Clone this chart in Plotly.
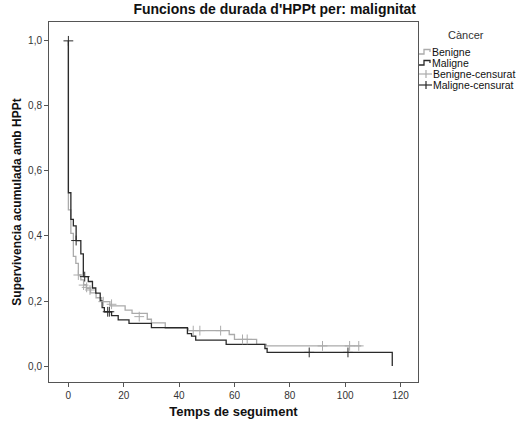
import plotly.graph_objects as go

# Kaplan-Meier step data (time, survival)
ben_t = [0, 0, 0.9, 1.8, 2.7, 3.6, 4.5, 5.5, 6.5, 8.0, 10.0, 12.0, 15.0, 20.5, 23.0, 28.5, 30.0,
         35.0, 43.3, 58.1, 60.0, 68.0, 71.5, 105.8]
ben_s = [1.0, 0.48, 0.408, 0.337, 0.316, 0.28, 0.265, 0.25, 0.239, 0.225, 0.21, 0.198, 0.185,
         0.172, 0.162, 0.144, 0.133, 0.116, 0.109, 0.097, 0.082, 0.067, 0.062, 0.062]

mal_t = [0, 0, 0.9, 1.8, 2.8, 4.5, 5.4, 7.2, 8.7, 9.9, 11.5, 12.2, 13.0, 15.6, 18.0, 21.9, 30.0,
         43.0, 44.5, 46.0, 57.0, 71.0, 71.8, 117.0, 117.0]
mal_s = [1.0, 0.533, 0.451, 0.431, 0.386, 0.345, 0.275, 0.26, 0.24, 0.224, 0.2, 0.18, 0.167,
         0.155, 0.142, 0.131, 0.118, 0.1, 0.092, 0.08, 0.067, 0.054, 0.042, 0.042, 0.0]

# Censored observations
ben_cens_t = [3.6, 5.5, 6.6, 7.8, 12.6, 15.6, 25.6, 45.1, 47.5, 55.0, 62.9, 64.6, 91.8, 101.6, 104.9]
ben_cens_s = [0.28, 0.249, 0.242, 0.234, 0.198, 0.19, 0.152, 0.109, 0.109, 0.109, 0.082, 0.082,
              0.062, 0.062, 0.062]
mal_cens_t = [0, 2.8, 5.9, 14.2, 14.8, 87.0, 101.0]
mal_cens_s = [1.0, 0.386, 0.275, 0.167, 0.167, 0.042, 0.042]

x_ticks = [0, 20, 40, 60, 80, 100, 120]
y_ticks = [0.0, 0.2, 0.4, 0.6, 0.8, 1.0]
y_tick_labels = ["0,0", "0,2", "0,4", "0,6", "0,8", "1,0"]

legend_title = "Càncer"
legend_names = ["Benigne", "Maligne", "Benigne-censurat", "Maligne-censurat"]

GRAY = "#ababab"
BLACK = "#2a2a2a"
FONT = "Liberation Sans, Arial"

W, H = 519, 425
ML, MR, MT, MB = 49, 101, 22, 43
PW, PH = W - ML - MR, H - MT - MB


def px(x):
    return (x - ML) / PW


def py(y):
    return (H - MB - y) / PH


fig = go.Figure()
fig.add_trace(go.Scatter(x=ben_t, y=ben_s, mode="lines", line=dict(color=GRAY, width=1.3, shape="hv"),
                         name=legend_names[0], showlegend=False))
fig.add_trace(go.Scatter(x=mal_t, y=mal_s, mode="lines", line=dict(color=BLACK, width=1.3, shape="hv"),
                         name=legend_names[1], showlegend=False))
fig.add_trace(go.Scatter(x=ben_cens_t, y=ben_cens_s, mode="markers", name=legend_names[2],
                         marker=dict(symbol="cross-thin", size=7, line=dict(color=GRAY, width=1)),
                         showlegend=False))
fig.add_trace(go.Scatter(x=mal_cens_t, y=mal_cens_s, mode="markers", name=legend_names[3],
                         marker=dict(symbol="cross-thin", size=7, line=dict(color=BLACK, width=1)),
                         showlegend=False))

# Manual legend (SPSS style)
shapes = []
annotations = []
annotations.append(dict(text=legend_title, xref="paper", yref="paper", x=px(466), y=py(35),
                        xanchor="center", yanchor="middle", showarrow=False,
                        font=dict(family=FONT, size=11, color="#333333")))
rows = [52, 63, 74, 85]
colors = [GRAY, BLACK, GRAY, BLACK]
for i, (name, yy, c) in enumerate(zip(legend_names, rows, colors)):
    if i < 2:
        path = (f"M {px(419)},{py(yy + 2)} L {px(424)},{py(yy + 2)} L {px(424)},{py(yy - 2.5)} "
                f"L {px(430)},{py(yy - 2.5)} L {px(430)},{py(yy)}")
        shapes.append(dict(type="path", xref="paper", yref="paper", path=path,
                           line=dict(color=c, width=1.3)))
        tx = 430
    else:
        shapes.append(dict(type="line", xref="paper", yref="paper", x0=px(419), x1=px(432),
                           y0=py(yy), y1=py(yy), line=dict(color=c, width=1.2)))
        shapes.append(dict(type="line", xref="paper", yref="paper", x0=px(426), x1=px(426),
                           y0=py(yy - 4), y1=py(yy + 4), line=dict(color=c, width=1.2)))
        tx = 431
    annotations.append(dict(text=name, xref="paper", yref="paper", x=px(tx), y=py(yy),
                            xanchor="left", yanchor="middle", showarrow=False,
                            font=dict(family=FONT, size=10.5, color="#111111")))

axis_common = dict(showgrid=False, zeroline=False, showline=True, linecolor="#555555", linewidth=1,
                   mirror=True, ticks="outside", ticklen=4, tickcolor="#555555", automargin=False,
                   tickfont=dict(family=FONT, size=10, color="#333333"))

fig.update_layout(
    width=W, height=H,
    margin=dict(l=ML, r=MR, t=MT, b=MB, autoexpand=False),
    paper_bgcolor="white", plot_bgcolor="white",
    showlegend=False,
    title=dict(text="<b>Funcions de durada d'HPPt per: malignitat</b>",
               font=dict(family=FONT, size=14, color="#111111"),
               x=416 / W, xref="container", xanchor="right", y=0.99, yref="container", yanchor="top"),
    xaxis=dict(range=[-7, 126.3], tickvals=x_ticks,
               title=dict(text="<b>Temps de seguiment</b>", standoff=6,
                          font=dict(family=FONT, size=13, color="#111111")),
               **axis_common),
    yaxis=dict(range=[-0.049, 1.058], tickvals=y_ticks, ticktext=y_tick_labels,
               title=dict(text="<b>Supervivencia acumulada amb HPPt</b>", standoff=3,
                          font=dict(family=FONT, size=12, color="#111111")),
               **axis_common),
    shapes=shapes,
    annotations=annotations,
)

fig.write_html("out.html")
